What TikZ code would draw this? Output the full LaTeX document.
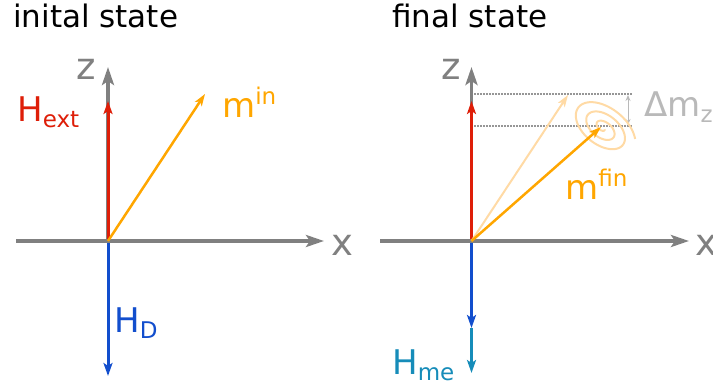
\documentclass[tikz,border=0pt]{standalone}
\usepackage{fontspec}
\setmainfont{DejaVu Sans}
\usetikzlibrary{arrows.meta}
\definecolor{axgray}{RGB}{128,128,128}
\definecolor{hred}{RGB}{222,30,8}
\definecolor{hblue}{RGB}{18,78,205}
\definecolor{mor}{RGB}{255,166,0}
\definecolor{mfaint}{RGB}{255,218,165}
\definecolor{hteal}{RGB}{22,140,185}
\definecolor{dgray}{RGB}{185,185,185}
\definecolor{dotgray}{RGB}{150,150,150}
\newcommand{\mysub}[1]{\raisebox{-6pt}{\fontsize{23}{23}\selectfont #1}}
\newcommand{\mysup}[1]{\raisebox{13pt}{\fontsize{23}{23}\selectfont #1}}
\tikzset{
  axis/.style={axgray, line width=3.5pt, -{Stealth[length=18pt,width=12pt,inset=4pt]}},
  hvec/.style={line width=3pt, -{Stealth[length=13pt,width=9pt,inset=3pt]}},
  mvec/.style={line width=2.5pt, -{Stealth[length=12pt,width=8pt,inset=3pt]}},
  title/.style={anchor=base west, inner sep=0pt, font=\fontsize{31}{36}\selectfont},
  axlab/.style={anchor=center, inner sep=0pt, text=axgray, font=\fontsize{37}{40}\selectfont},
  vlab/.style={anchor=base west, inner sep=0pt, font=\fontsize{34}{40}\selectfont},
  dotline/.style={dotgray, line width=1.3pt, dash pattern=on 1.5pt off 1.5pt},
}
\begin{document}
\begin{tikzpicture}[x=1pt,y=-1pt]
\useasboundingbox (0,0) rectangle (713,387);
% ---------- left panel ----------
\node[title] (t1) at (13,28) {inital state};
\coordinate (O1) at (108,241);
\coordinate (X1s) at (16,241);
\coordinate (X1e) at (324,241);
\coordinate (Z1e) at (108,67);
\coordinate (H1e) at (108,101);
\coordinate (D1e) at (108,376);
\coordinate (M1e) at (205,94);
\draw[axis] (O1) -- (Z1e);
\draw[hvec, hred] (O1) -- (H1e);
\draw[hvec, hblue] (O1) -- (D1e);
\draw[axis] (X1s) -- (X1e);
\draw[mvec, mor] (O1) -- (M1e);
\node[axlab] (z1) at (86,69) {z};
\node[axlab] (x1) at (342,245) {x};
\node[vlab, text=hred] (hext) at (17,122) {H\mysub{ext}};
\node[vlab, text=mor] (min) at (222,118) {m\mysup{in}};
\node[vlab, text=hblue] (hd) at (114,333) {H\mysub{D}};
% ---------- right panel ----------
\node[title] (t2) at (392,28) {final state};
\coordinate (O2) at (471.5,241);
\coordinate (X2s) at (380,241);
\coordinate (X2e) at (689,241);
\coordinate (Z2e) at (471.5,67);
\coordinate (H2e) at (471.5,101);
\coordinate (D2e) at (471.5,328);
\coordinate (E2e) at (471.5,373);
\coordinate (Mi) at (568,95);
\coordinate (Mf) at (601,127);
\coordinate (T1) at (474,94);
\coordinate (T2) at (633,94);
\coordinate (B1) at (474,126);
\coordinate (B2) at (633,126);
\coordinate (Da) at (628,95);
\coordinate (Db) at (628,125);
\draw[dotline] (T1) -- (T2);
\draw[dotline] (B1) -- (B2);
\draw[dgray, line width=1pt, {Stealth[length=6pt,width=5pt]}-{Stealth[length=6pt,width=5pt]}] (Da) -- (Db);
\draw[axis] (O2) -- (Z2e);
\draw[hvec, hred] (O2) -- (H2e);
\draw[hvec, hteal] (D2e) -- (E2e);
\draw[hvec, hblue] (O2) -- (D2e);
\draw[axis] (X2s) -- (X2e);
\draw[mfaint, line width=2pt] plot[shift={(603,128)}, rotate=-38, domain=0:1050, samples=260, smooth] ({(2+\x/30)*cos(\x)}, {0.6*(2+\x/30)*sin(\x)});
\draw[mvec, mfaint, line width=2pt] (O2) -- (Mi);
\draw[mvec, mor] (O2) -- (Mf);
\node[axlab] (z2) at (451,69) {z};
\node[axlab] (x2) at (706,245) {x};
\node[vlab, text=mor] (mfin) at (565,200) {m\mysup{fin}};
\node[vlab, text=dgray] (dmz) at (644,117) {Δm\mysub{z}};
\node[vlab, text=hteal] (hme) at (392,375) {H\mysub{me}};
\end{tikzpicture}
\end{document}
